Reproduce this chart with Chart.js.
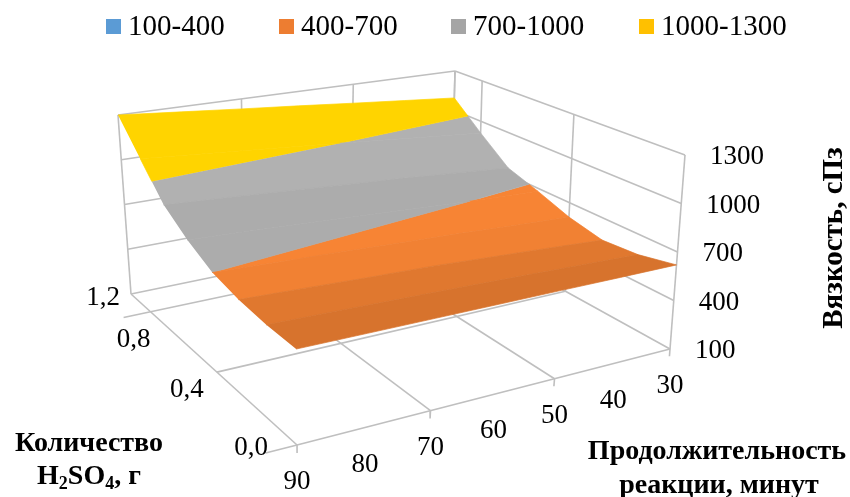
<!DOCTYPE html>
<html>
<head>
<meta charset="utf-8">
<script src="https://cdn.jsdelivr.net/npm/chart.js@4/dist/chart.umd.min.js"></script>
<style>
html, body { margin: 0; padding: 0; background: #fff; }
canvas { display: block; }
</style>
</head>
<body>
<canvas id="surfaceChart" width="850" height="497"></canvas>
<script>
// categories
const timeLabels = [90, 80, 70, 60, 50, 40, 30];
const acidLabels = ['0,0', '', '', '0,4', '', '', '0,8', '1,2'];
const zTicks = [100, 400, 700, 1000, 1300];
const bandNames = ['100-400', '400-700', '700-1000', '1000-1300'];
const bandLimits = [[100, 400], [400, 700], [700, 1000], [1000, 1300]];

// viscosity, one row per acid category, time 90 -> 30
const viscAcid0 = [633, 631, 629, 627, 625, 622, 620];
const viscAcid1 = [638, 630, 620, 610, 598, 585, 572];
const viscAcid2 = [658, 645, 630, 618, 598, 578, 556];
const viscAcid3 = [700, 685, 672, 655, 640, 620, 603];
const viscAcid4 = [786, 770, 752, 733, 712, 695, 680];
const viscAcid5 = [900, 878, 855, 830, 807, 778, 748];
const viscAcid6 = [1100, 1070, 1040, 1010, 978, 945, 914];
const viscAcid7 = [1300, 1265, 1230, 1197, 1162, 1128, 1094];
const surfaceRows = [viscAcid0, viscAcid1, viscAcid2, viscAcid3, viscAcid4, viscAcid5, viscAcid6, viscAcid7];

// look of the chart
const legendColors = ['#5B9BD5', '#ED7D31', '#A5A5A5', '#FFC000'];
const surfaceColors = [[91, 155, 213], [247, 132, 52], [178, 178, 178], [255, 212, 0]];
const gridColor = '#BFBFBF';
const serif = '"Liberation Serif", "Times New Roman", serif';

// the box corners on screen: near, right, back, left
const floorQuad = [[297, 445], [670, 349], [451, 228], [131, 294]];
const roofQuad = [[295, 229], [685, 155], [455, 71], [118, 115]];

function quadMap(q) {
    const [[x0, y0], [x1, y1], [x2, y2], [x3, y3]] = q;
    const dx1 = x1 - x2, dx2 = x3 - x2, sx = x0 - x1 + x2 - x3;
    const dy1 = y1 - y2, dy2 = y3 - y2, sy = y0 - y1 + y2 - y3;
    const den = dx1 * dy2 - dx2 * dy1;
    const g = (sx * dy2 - dx2 * sy) / den;
    const h = (dx1 * sy - sx * dy1) / den;
    const a = x1 - x0 + g * x1, b = x3 - x0 + h * x3;
    const d = y1 - y0 + g * y1, e = y3 - y0 + h * y3;
    return (u, v) => {
        const w = g * u + h * v + 1;
        return [(a * u + b * v + x0) / w, (d * u + e * v + y0) / w];
    };
}
const floorMap = quadMap(floorQuad);
const roofMap = quadMap(roofQuad);

// col and row are category positions, z is the viscosity
function project(col, row, z) {
    const u = col / (timeLabels.length - 1);
    const v = row / (acidLabels.length - 1);
    const t = (z - zTicks[0]) / (zTicks[zTicks.length - 1] - zTicks[0]);
    const f = floorMap(u, v), r = roofMap(u, v);
    return { x: f[0] + (r[0] - f[0]) * t, y: f[1] + (r[1] - f[1]) * t };
}

function clipZ(poly, limit, keepAbove) {
    const out = [];
    poly.forEach((p, i) => {
        const q = poly[(i + 1) % poly.length];
        const pIn = keepAbove ? p[2] >= limit : p[2] <= limit;
        const qIn = keepAbove ? q[2] >= limit : q[2] <= limit;
        if (pIn) out.push(p);
        if (pIn !== qIn) {
            const k = (limit - p[2]) / (q[2] - p[2]);
            out.push([p[0] + (q[0] - p[0]) * k, p[1] + (q[1] - p[1]) * k, limit]);
        }
    });
    return out;
}

// rows that climb faster catch more light
function shade(rgb, band, slope) {
    let k = 0.905 + slope * 0.0016;
    if (band === 2) k = 0.94 + slope * 0.0003;
    if (band === 3) k = 1;
    k = Math.min(k, 1);
    return `rgb(${rgb.map(c => Math.round(c * k)).join(',')})`;
}

const painted = [];

function addLine(a, b, width) {
    painted.push({
        data: [a, b], showLine: true, pointRadius: 0, fill: false, clip: false,
        borderColor: gridColor, borderWidth: width || 1.6, tension: 0
    });
}

function addFrame() {
    const lastCol = timeLabels.length - 1, lastRow = acidLabels.length - 1;
    const zLow = zTicks[0], zHigh = zTicks[zTicks.length - 1];
    // floor
    [0, 3, 6, lastRow].forEach(r => addLine(project(0, r, zLow), project(lastCol, r, zLow)));
    [0, 2, 4, lastCol].forEach(c => addLine(project(c, 0, zLow), project(c, lastRow, zLow)));
    // back wall and right wall
    [0, 2, 4, lastCol].forEach(c => addLine(project(c, lastRow, zLow), project(c, lastRow, zHigh)));
    [0, 3, 6, lastRow].forEach(r => addLine(project(lastCol, r, zLow), project(lastCol, r, zHigh)));
    zTicks.slice(1).forEach(z => {
        addLine(project(0, lastRow, z), project(lastCol, lastRow, z));
        addLine(project(lastCol, 0, z), project(lastCol, lastRow, z));
    });
    // tick marks under the front edge and left of the side edge
    [0, 2, 4, lastCol].forEach(c => {
        const p = project(c, 0, zLow);
        addLine(p, project(c, 0, zLow - 45));
    });
    [0, 6].forEach(r => addLine(project(0, r, zLow), project(-0.45, r, zLow)));
}

function addSurface() {
    const lastCol = timeLabels.length - 1;
    // far rows first so the near ones paint over them
    for (let r = acidLabels.length - 2; r >= 0; r--) {
        const low = surfaceRows[r], high = surfaceRows[r + 1];
        const slope = (high[0] + high[lastCol] - low[0] - low[lastCol]) / 2;
        const strip = [];
        low.forEach((z, c) => strip.push([c, r, z]));
        for (let c = lastCol; c >= 0; c--) strip.push([c, r + 1, high[c]]);
        bandLimits.forEach((lim, band) => {
            const poly = clipZ(clipZ(strip, lim[0], true), lim[1], false);
            if (poly.length < 3) return;
            const color = shade(surfaceColors[band], band, slope);
            painted.push({
                data: poly.map(p => project(p[0], p[1], p[2])),
                showLine: true, pointRadius: 0, tension: 0, clip: false,
                fill: 'shape', backgroundColor: color, borderColor: color, borderWidth: 0.7
            });
        });
    }
}

addFrame();
addSurface();

// axis text and titles; Chart.js has no 3D axes so these go through the same projection
const axisText = {
    id: 'axisText',
    afterDatasetsDraw(chart) {
        const { ctx, scales } = chart;
        const px = p => ({ x: scales.x.getPixelForValue(p.x), y: scales.y.getPixelForValue(p.y) });
        const lastCol = timeLabels.length - 1;
        ctx.save();
        ctx.fillStyle = '#000';
        ctx.textBaseline = 'middle';

        // legend
        const boxX = [106, 279, 451, 639];
        bandNames.forEach((name, i) => {
            ctx.fillStyle = legendColors[i];
            ctx.fillRect(boxX[i], 19, 15, 15);
            ctx.fillStyle = '#000';
            ctx.font = `29px ${serif}`;
            ctx.textAlign = 'left';
            ctx.fillText(name, boxX[i] + 22, 27);
        });

        ctx.font = `27px ${serif}`;
        ctx.textAlign = 'center';
        timeLabels.forEach((t, c) => {
            const p = px(project(c, 0, zTicks[0]));
            ctx.fillText(String(t), p.x, p.y + 37);
        });

        const acidShift = { 0: [-46, 3], 3: [-30, 18], 6: [-17, 28], 7: [-28, 4] };
        acidLabels.forEach((t, r) => {
            if (!t) return;
            const p = px(project(0, r, zTicks[0]));
            ctx.fillText(t, p.x + acidShift[r][0], p.y + acidShift[r][1]);
        });

        ctx.textAlign = 'left';
        zTicks.forEach(z => {
            const p = px(project(lastCol, 0, z));
            ctx.fillText(String(z), p.x + 25, p.y + 2);
        });

        ctx.font = `bold 28px ${serif}`;
        ctx.textAlign = 'center';
        ctx.fillText('Количество', 89, 444);
        ctx.fillText('Продолжительность', 717, 452);
        ctx.fillText('реакции, минут', 719, 486);

        // H2SO4, г with real subscripts
        const parts = [['H', 0], ['2', 1], ['SO', 0], ['4', 1], [', г', 0]];
        const widths = parts.map(([s, sub]) => {
            ctx.font = `bold ${sub ? 18 : 28}px ${serif}`;
            return ctx.measureText(s).width;
        });
        let x = 89 - widths.reduce((a, b) => a + b, 0) / 2;
        ctx.textAlign = 'left';
        parts.forEach(([s, sub], i) => {
            ctx.font = `bold ${sub ? 18 : 28}px ${serif}`;
            ctx.fillText(s, x, sub ? 484 : 477);
            x += widths[i];
        });

        ctx.font = `bold 29px ${serif}`;
        ctx.textAlign = 'center';
        ctx.translate(835, 238);
        ctx.rotate(-Math.PI / 2);
        ctx.fillText('Вязкость, сПз', 0, 0);
        ctx.restore();
    }
};

new Chart(document.getElementById('surfaceChart'), {
    type: 'scatter',
    // Chart.js paints the first dataset last
    data: { datasets: painted.slice().reverse() },
    plugins: [axisText],
    options: {
        responsive: false,
        animation: false,
        scales: {
            x: { type: 'linear', display: false, min: 0, max: 850 },
            y: { type: 'linear', display: false, min: 0, max: 497, reverse: true }
        },
        plugins: {
            filler: { drawTime: 'beforeDatasetDraw' },
            tooltip: { enabled: false },
            legend: { display: false }
        }
    }
});
</script>
</body>
</html>
